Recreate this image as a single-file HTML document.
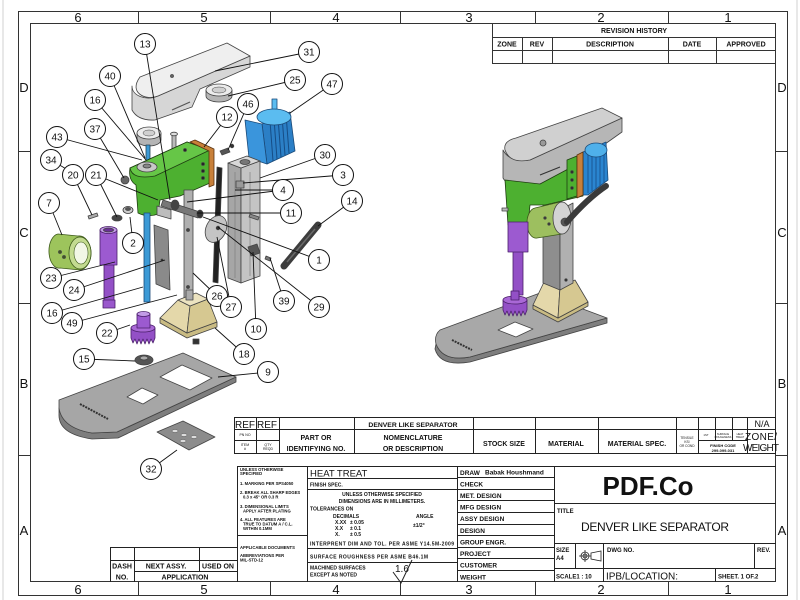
<!DOCTYPE html>
<html><head><meta charset="utf-8"><style>
html,body{margin:0;padding:0;background:#fff;width:800px;height:600px;overflow:hidden}
svg{display:block}
text{font-family:"Liberation Sans",Arial,sans-serif;fill:#111}
.z{font-size:13px}
.b{font-weight:bold}
.bl text{font-size:10px;text-anchor:middle}
</style></head><body>
<svg width="800" height="600" viewBox="0 0 800 600" xmlns="http://www.w3.org/2000/svg">
<rect width="800" height="600" fill="#fff"/>
<line x1="3" y1="0" x2="3" y2="600" stroke="#d0d0d0"/>
<line x1="797" y1="0" x2="797" y2="600" stroke="#d0d0d0"/>
<!-- frame -->
<rect x="18.5" y="11.5" width="769" height="584" fill="none" stroke="#333"/>
<rect x="30.5" y="23.5" width="745" height="558" fill="none" stroke="#333"/>
<path d="M138.5,11V23M270.5,11V23M400.5,11V23M535.5,11V23M668.5,11V23M138.5,582V595M270.5,582V595M400.5,582V595M535.5,582V595M668.5,582V595M18,151.5H30M18,303.5H30M18,455.5H30M776,151.5H788M776,303.5H788M776,455.5H788" stroke="#333" fill="none"/>
<g class="z" text-anchor="middle">
<text x="78" y="22">6</text><text x="204" y="22">5</text><text x="336" y="22">4</text><text x="469" y="22">3</text><text x="601" y="22">2</text><text x="728" y="22">1</text>
<text x="78" y="594">6</text><text x="204" y="594">5</text><text x="336" y="594">4</text><text x="469" y="594">3</text><text x="601" y="594">2</text><text x="728" y="594">1</text>
<text x="24" y="92">D</text><text x="24" y="237">C</text><text x="24" y="388">B</text><text x="24" y="535">A</text>
<text x="782" y="92">D</text><text x="782" y="237">C</text><text x="782" y="388">B</text><text x="782" y="535">A</text>
</g>

<!-- revision history -->
<g stroke="#333" fill="none">
<rect x="492.5" y="23.5" width="283" height="40"/>
<path d="M492,37.5H776M492,50.5H776M522.5,37V63M552.5,37V63M668.5,37V63M716.5,37V63"/>
</g>
<g font-size="7" class="b" text-anchor="middle">
<text x="634" y="33">REVISION HISTORY</text>
<text x="507" y="46.5">ZONE</text><text x="537" y="46.5">REV</text><text x="610" y="46.5">DESCRIPTION</text><text x="692" y="46.5">DATE</text><text x="746" y="46.5">APPROVED</text>
</g>

<!-- ============ EXPLODED VIEW ============ -->
<g stroke="#444" stroke-width="0.8" stroke-linejoin="round">
<!-- arm 31 -->
<path d="M132,86 L132,110 Q138,121 155,120 L192,107 L200,89 L250,67 L250,56 L158,96 C146,101 132,96 132,86 Z" fill="#d6d6d6"/>
<path d="M140,77 L227,43 L250,56 L158,96 C146,101 128,93 140,77 Z" fill="#efefef"/>
<circle cx="172" cy="76" r="1.5" fill="#666"/>
<path d="M172,110 L190,102" stroke="#555" stroke-width="1.2"/>
<!-- pulley 25 -->
<path d="M206,90 v6 a13,6 0 0 0 26,0 v-6 z" fill="#b5b5b5"/>
<ellipse cx="219" cy="90" rx="13" ry="6" fill="#ececec"/>
<ellipse cx="219" cy="90" rx="7" ry="3" fill="#d0d0d0" stroke-width="0.5"/>
<!-- pulley 40 -->
<path d="M137,133 v7 a12,6 0 0 0 24,0 v-7 z" fill="#b5b5b5"/>
<ellipse cx="149" cy="133" rx="12" ry="6" fill="#ececec"/>
<ellipse cx="149" cy="133" rx="6" ry="3" fill="#d0d0d0" stroke-width="0.5"/>
<rect x="146" y="145" width="4" height="16" fill="#3c9ad6" stroke="#245"/>
<!-- motor 47 -->
<rect x="272" y="99" width="5" height="17" fill="#5bbcf0" stroke="#1b4a78"/>
<path d="M262,124 L290,112 L295,151 L267,164 Z" fill="#2b7fc6" stroke="#1b4a78"/>
<path d="M270,121 L273,161 M274,119 L277,159 M278,118 L281,157 M282,116 L285,155 M286,114 L289,153" stroke="#164d85" stroke-width="1"/>
<path d="M245,120 L262,124 L267,164 L249,158 Z" fill="#3a95dc" stroke="#1b4a78"/>
<ellipse cx="274" cy="117" rx="17" ry="8" fill="#5bbcf0" stroke="#1b4a78"/>
<!-- bolt 13 -->
<rect x="172" y="134" width="4" height="30" fill="#bbb"/>
<ellipse cx="174" cy="134" rx="3.5" ry="1.8" fill="#ddd"/>
<!-- green body -->
<path d="M130,168 L187,142 L210,150 L210,183 L180,196 L160,200 L158,214 Q148,218 138,213 L136,185 Q128,180 130,168 Z" fill="#4db030" stroke="#1f3d12"/>
<path d="M130,168 L187,142 L210,150 L155,176 Q132,180 130,168 Z" fill="#66c647" stroke="#1f3d12"/>
<ellipse cx="147" cy="167" rx="10" ry="5" fill="#c8c8c8"/>
<ellipse cx="147" cy="166" rx="4" ry="2" fill="#888"/>
<path d="M190,142 L195,140 L214,149 L214,185 L209,187 L209,151 Z" fill="#c8803a" stroke="#5a3210"/>
<circle cx="203" cy="164" r="1.5" fill="#222"/><circle cx="203" cy="171" r="1.5" fill="#222"/><circle cx="203" cy="178" r="1.5" fill="#222"/>
<circle cx="185" cy="150" r="1.5" fill="#222"/>
<!-- small parts -->
<path d="M220,151 l8,-3 l2,4 l-8,3 z" fill="#555"/>
<circle cx="232" cy="146" r="1.8" fill="#333"/>
<circle cx="125" cy="180" r="4" fill="#666"/>
<path d="M88,216 l9,-3 l1,3 l-9,3 z" fill="#aaa"/>
<ellipse cx="117" cy="218" rx="5" ry="3" fill="#444"/>
<ellipse cx="128" cy="210" rx="5" ry="3.5" fill="#ccc" stroke="#333"/>
<ellipse cx="128" cy="209" rx="2.5" ry="1.5" fill="#555"/>
<!-- post 30 -->
<path d="M228,163 L241,168 L241,283 L228,278 Z" fill="#a6a6a6"/>
<path d="M241,168 L260,161 L260,276 L241,283 Z" fill="#c4c4c4"/>
<path d="M228,163 L247,156 L260,161 L241,168 Z" fill="#d8d8d8"/>
<ellipse cx="245" cy="162" rx="5" ry="2.5" fill="#777"/>
<path d="M235,172 V278 M250,172 V276" stroke="#777" stroke-width="0.6"/>
<path d="M236,181 h8 v7 h-8 z" fill="#999"/>
<path d="M250,214 l9,3 l-1,3 l-9,-3 z" fill="#888"/>
<!-- black rod -->
<path d="M217,167 L222,168 L218,283 L213,282 Z" fill="#222"/>
<!-- shaft 26 -->
<rect x="184" y="190" width="9" height="110" fill="#b0b0b0"/>
<circle cx="188" cy="230" r="1.5" fill="#444"/><circle cx="188" cy="287" r="1.5" fill="#444"/>
<!-- horizontal shaft items -->
<path d="M163,200 L200,212 L198,218 L161,206 Z" fill="#777"/>
<ellipse cx="175" cy="205" rx="4" ry="5" fill="#444"/>
<ellipse cx="200" cy="214" rx="3" ry="4" fill="#333"/>
<path d="M157,206 l14,4 v9 l-14,-4 z" fill="#bdbdbd"/>
<!-- blue shaft 16 -->
<rect x="144" y="213" width="6" height="89" fill="#3c9ad6" stroke="#1b4a78"/>
<!-- plate 24 -->
<path d="M154,225 L168,230 L170,290 L156,284 Z" fill="#8a8a8a"/>
<circle cx="162" cy="260" r="1" fill="#222"/>
<!-- disc 1 -->
<ellipse cx="216" cy="229" rx="10" ry="14" fill="#c4c4c4" transform="rotate(25 216 229)"/>
<circle cx="218" cy="228" r="1.8" fill="#333"/>
<!-- lever 14 -->
<path d="M284,266 L318,225" stroke="#3d3d3d" stroke-width="7" stroke-linecap="round"/>
<path d="M287,262 L315,229" stroke="#6a6a6a" stroke-width="1.5"/>
<!-- part 10, 39 -->
<path d="M248,247 L257,244 L260,253 L251,256 Z" fill="#555"/>
<path d="M266,256 l5,2 l-1,3 l-5,-2 z" fill="#777"/>
<!-- part 7 -->
<path d="M58,234 L78,236 A12,17 0 0 1 80,270 L60,268 A10,17 0 0 1 58,234 Z" fill="#9dc45c" stroke="#3d5a1a"/>
<ellipse cx="80" cy="253" rx="11" ry="16" fill="#c3db90" stroke="#3d5a1a"/>
<ellipse cx="81" cy="253" rx="7" ry="11" fill="#f2f7e6" stroke="#3d5a1a" stroke-width="0.6"/>
<circle cx="60" cy="252" r="1.5" fill="#3d5a1a"/><circle cx="64" cy="257" r="1.5" fill="#3d5a1a"/>
<!-- purple 23/24 -->
<rect x="104" y="264" width="10" height="38" fill="#9350c6" stroke="#4a1f6a"/>
<path d="M103,300 h12 v8 h-12 z" fill="#9a58cc" stroke="#4a1f6a"/>
<path d="M100,230 V265 H117 V230 Z" fill="#9c5ad0" stroke="#4a1f6a"/>
<ellipse cx="108.5" cy="230" rx="8.5" ry="3.5" fill="#c29ae6" stroke="#4a1f6a"/>
<ellipse cx="108.5" cy="230" rx="5" ry="2" fill="#6b2f96"/>
<!-- purple gear 22 -->
<path d="M131,328 h24 v10 l-2,5 l-2,-4 l-2,5 l-2,-5 l-2,5 l-2,-5 l-2,5 l-2,-5 l-2,5 l-2,-5 l-2,4 l-2,-5 z" fill="#9350c6" stroke="#4a1f6a"/>
<ellipse cx="143" cy="328" rx="12" ry="4" fill="#a968d6" stroke="#4a1f6a"/>
<rect x="137" y="314" width="13" height="14" fill="#9c5ad0" stroke="#4a1f6a"/>
<ellipse cx="143.5" cy="314" rx="6.5" ry="2.5" fill="#c29ae6" stroke="#4a1f6a"/>
<!-- part 15 -->
<ellipse cx="144" cy="360" rx="9" ry="5" fill="#555"/>
<ellipse cx="144" cy="358" rx="4" ry="2" fill="#aaa"/>
<!-- tan base 18 -->
<path d="M160,318 L187,333 L217,322 L217,327 L187,338 L160,323 Z" fill="#c9bb83"/>
<path d="M178,300 L190,306 L187,333 L160,318 Z" fill="#e4d8aa"/>
<path d="M190,306 L208,299 L217,322 L187,333 Z" fill="#d6c891"/>
<path d="M178,300 L196,293 L208,299 L190,306 Z" fill="#ece3c0"/>
<rect x="186" y="290" width="7" height="10" fill="#aaa"/>
<rect x="193" y="339" width="6" height="5" fill="#333"/>
<!-- plate 9 -->
<path d="M59,408 Q62,428 92,433 L117,432 L236,377 L236,382 L118,438 L92,439 Q58,434 59,414 Z" fill="#7e7e7e"/>
<path d="M59,400 L183,353 L236,377 L117,432 L92,433 Q62,428 59,408 Z" fill="#a6a6a6"/>
<path d="M160,377 L182,365 L212,378 L190,390 Z" fill="#fff"/>
<path d="M127,397 L142,388 L158,395 L143,404 Z" fill="#fff"/>
<path d="M80,404 L108,419" stroke="#333" stroke-width="2" stroke-dasharray="2,1"/>
<!-- plate 32 -->
<path d="M157,432 L183,421 L215,437 L189,450 Z" fill="#8c8c8c"/>
<ellipse cx="175" cy="431" rx="3" ry="1.5" fill="#ddd" stroke-width="0.4"/><ellipse cx="184" cy="435" rx="3" ry="1.5" fill="#ddd" stroke-width="0.4"/>
<ellipse cx="183" cy="441" rx="3" ry="1.5" fill="#ddd" stroke-width="0.4"/><ellipse cx="194" cy="437" rx="3" ry="1.5" fill="#ddd" stroke-width="0.4"/>
</g>

<!-- ============ ASSEMBLED VIEW ============ -->
<g stroke="#444" stroke-width="0.8" stroke-linejoin="round">
<!-- base plate -->
<path d="M436,344 Q443,362 470,357 L607,318 L607,323 L470,362 Q440,367 435,349 Z" fill="#7e7e7e"/>
<path d="M440,330 L540,293 L607,318 L470,357 Q443,362 436,344 Q434,335 440,330 Z" fill="#a8a8a8"/>
<path d="M498,330 L515,322 L533,329 L516,337 Z" fill="#fff"/>
<path d="M452,340 L472,350" stroke="#333" stroke-width="2" stroke-dasharray="2,1"/>
<!-- tan base -->
<path d="M533,305 L558,318 L588,302 L588,306 L558,322 L533,309 Z" fill="#c9bb83"/>
<path d="M545,280 L560,287 L558,318 L533,305 Z" fill="#e4d8aa"/>
<path d="M560,287 L575,280 L588,302 L558,318 Z" fill="#d6c891"/>
<!-- post -->
<path d="M543,203 L560,210 L560,290 L543,283 Z" fill="#8e8e8e"/>
<path d="M560,210 L573,203 L573,283 L560,290 Z" fill="#b0b0b0"/>
<circle cx="566" cy="280" r="1.2" fill="#222"/>
<!-- arm -->
<path d="M503,150 L503,178 Q510,190 530,188 L560,176 L622,132 L622,118 L530,160 Q510,163 503,150 Z" fill="#b6b6b6"/>
<path d="M505,150 Q503,141 516,138 L602,108 L622,118 L530,160 Q510,164 505,150 Z" fill="#d0d0d0"/>
<circle cx="543" cy="143" r="3" fill="#999"/>
<path d="M540,175 L560,167" stroke="#333" stroke-width="1.2"/>
<!-- motor -->
<path d="M583,152 L606,142 L608,180 L588,195 L583,195 Z" fill="#2a85d0" stroke="#1b4a78"/>
<path d="M588,152 V193 M592,150 V191 M596,148 V189 M600,147 V186 M604,145 V183" stroke="#164d85"/>
<ellipse cx="596" cy="150" rx="11" ry="7" fill="#4fb0ea" stroke="#1b4a78"/>
<!-- green -->
<path d="M505,180 L540,184 L570,168 L583,164 L583,196 L545,205 L530,205 L528,225 L508,225 L506,195 Z" fill="#4db030" stroke="#1f3d12"/>
<path d="M567,160 L577,156 L577,196 L567,199 Z" fill="#4db030" stroke="#1f3d12"/>
<circle cx="572" cy="172" r="1.3" fill="#222"/><circle cx="572" cy="180" r="1.3" fill="#222"/><circle cx="572" cy="188" r="1.3" fill="#222"/>
<path d="M577,155 L583,152 L583,195 L577,198 Z" fill="#c8803a" stroke="#5a3210"/>
<path d="M502,208 h6 v3 h-6 z" fill="#bbb"/>
<!-- cylinder -->
<path d="M535,208 L560,202 A9,16 0 0 1 562,234 L537,238 A9,15 0 0 1 535,208 Z" fill="#9dbf5f" stroke="#3d5a1a"/>
<ellipse cx="562" cy="218" rx="9" ry="16" fill="#d3d3d3"/>
<circle cx="565" cy="222" r="4" fill="#555"/>
<circle cx="545" cy="218" r="1.2" fill="#333"/><circle cx="549" cy="224" r="1.2" fill="#333"/>
<!-- lever -->
<path d="M567,222 Q588,198 606,186" fill="none" stroke="#3a3a3a" stroke-width="6" stroke-linecap="round"/>
<!-- purple -->
<rect x="513" y="250" width="10" height="45" fill="#9350c6" stroke="#4a1f6a"/>
<rect x="508" y="222" width="20" height="30" fill="#9c5ad0" stroke="#4a1f6a"/>
<path d="M503,300 h24 v10 l-2,5 l-2,-4 l-2,5 l-2,-5 l-2,5 l-2,-5 l-2,5 l-2,-5 l-2,5 l-2,-5 l-2,4 l-2,-5 z" fill="#9350c6" stroke="#4a1f6a"/>
<ellipse cx="515" cy="300" rx="12" ry="4" fill="#a968d6" stroke="#4a1f6a"/>
<rect x="511" y="291" width="8" height="9" fill="#9350c6" stroke="#4a1f6a"/>
</g>

<!-- leaders -->
<g stroke="#111" stroke-width="0.9" fill="none">
<path d="M145,44 L170,200"/>
<path d="M309,52 L215,71"/>
<path d="M110,76 L145,158"/>
<path d="M295,80 L228,96"/>
<path d="M332,84 L290,113"/>
<path d="M95,100 L146,160"/>
<path d="M248,104 L228,150"/>
<path d="M227,117 L204,147"/>
<path d="M95,129 L124,178"/>
<path d="M57,137 L142,160"/>
<path d="M51,160 L68,170"/>
<path d="M73,175 L92,215"/>
<path d="M96,175 L117,217 M96,175 L158,200"/>
<path d="M325,155 L260,178"/>
<path d="M343,175 L243,183"/>
<path d="M283,190 L235,190 M283,190 L187,202"/>
<path d="M352,201 L318,226"/>
<path d="M49,203 L62,235"/>
<path d="M291,213 L197,213"/>
<path d="M133,243 L130,217"/>
<path d="M319,260 L203,217"/>
<path d="M51,278 L115,262"/>
<path d="M74,290 L165,260"/>
<path d="M52,313 L143,287"/>
<path d="M72,323 L177,295"/>
<path d="M217,296 L193,273"/>
<path d="M231,307 L217,237"/>
<path d="M284,301 L270,258"/>
<path d="M319,307 L218,227"/>
<path d="M256,329 L253,252"/>
<path d="M107,333 L130,325"/>
<path d="M244,354 L215,328"/>
<path d="M84,359 L135,361"/>
<path d="M268,372 L218,377"/>
<path d="M151,469 L177,450"/>
</g>

<!-- balloons -->
<g class="bl">
<g fill="#fff" stroke="#111" stroke-width="1">
<circle cx="145" cy="44" r="10.5"/><circle cx="309" cy="52" r="10.5"/><circle cx="110" cy="76" r="10.5"/><circle cx="295" cy="80" r="10.5"/>
<circle cx="332" cy="84" r="10.5"/><circle cx="95" cy="100" r="10.5"/><circle cx="248" cy="104" r="10.5"/><circle cx="227" cy="117" r="10.5"/>
<circle cx="95" cy="129" r="10.5"/><circle cx="57" cy="137" r="10.5"/><circle cx="51" cy="160" r="10.5"/><circle cx="73" cy="175" r="10.5"/>
<circle cx="96" cy="175" r="10.5"/><circle cx="325" cy="155" r="10.5"/><circle cx="343" cy="175" r="10.5"/><circle cx="283" cy="190" r="10.5"/>
<circle cx="352" cy="201" r="10.5"/><circle cx="49" cy="203" r="10.5"/><circle cx="291" cy="213" r="10.5"/><circle cx="133" cy="243" r="10.5"/>
<circle cx="319" cy="260" r="10.5"/><circle cx="51" cy="278" r="10.5"/><circle cx="74" cy="290" r="10.5"/><circle cx="52" cy="313" r="10.5"/>
<circle cx="72" cy="323" r="10.5"/><circle cx="217" cy="296" r="10.5"/><circle cx="231" cy="307" r="10.5"/><circle cx="284" cy="301" r="10.5"/>
<circle cx="319" cy="307" r="10.5"/><circle cx="256" cy="329" r="10.5"/><circle cx="107" cy="333" r="10.5"/><circle cx="244" cy="354" r="10.5"/>
<circle cx="84" cy="359" r="10.5"/><circle cx="268" cy="372" r="10.5"/><circle cx="151" cy="469" r="10.5"/>
</g>
<text x="145" y="47.5">13</text><text x="309" y="55.5">31</text><text x="110" y="79.5">40</text><text x="295" y="83.5">25</text>
<text x="332" y="87.5">47</text><text x="95" y="103.5">16</text><text x="248" y="107.5">46</text><text x="227" y="120.5">12</text>
<text x="95" y="132.5">37</text><text x="57" y="140.5">43</text><text x="51" y="163.5">34</text><text x="73" y="178.5">20</text>
<text x="96" y="178.5">21</text><text x="325" y="158.5">30</text><text x="343" y="178.5">3</text><text x="283" y="193.5">4</text>
<text x="352" y="204.5">14</text><text x="49" y="206.5">7</text><text x="291" y="216.5">11</text><text x="133" y="246.5">2</text>
<text x="319" y="263.5">1</text><text x="51" y="281.5">23</text><text x="74" y="293.5">24</text><text x="52" y="316.5">16</text>
<text x="72" y="326.5">49</text><text x="217" y="299.5">26</text><text x="231" y="310.5">27</text><text x="284" y="304.5">39</text>
<text x="319" y="310.5">29</text><text x="256" y="332.5">10</text><text x="107" y="336.5">22</text><text x="244" y="357.5">18</text>
<text x="84" y="362.5">15</text><text x="268" y="375.5">9</text><text x="151" y="472.5">32</text>
</g>

<!-- ============ BOM ============ -->
<g stroke="#222" fill="none">
<rect x="234.5" y="417.5" width="541" height="36"/>
<path d="M234,429.5H776M234,440.5H279M698,440.5H747"/>
<path d="M256.5,417V453M279.5,417V453M354.5,417V453M473.5,417V453M535.5,417V453M598.5,417V453M676.5,417V453M698.5,417V453M715.5,417V440M732.5,417V440M747.5,417V453"/>
</g>
<text x="235" y="428" font-size="10">REF</text><text x="257" y="428" font-size="10">REF</text>
<g text-anchor="middle">
<text x="245" y="436" font-size="3.5">PN NO</text>
<text x="245" y="446" font-size="3.5">ITEM</text><text x="245" y="450" font-size="3.5">#</text>
<text x="268" y="446" font-size="3.5">QTY</text><text x="268" y="450" font-size="3.5">REQD</text>
<text x="316" y="440" font-size="7" class="b">PART OR</text>
<text x="316" y="451" font-size="7" class="b">IDENTIFYING NO.</text>
<text x="413" y="427" font-size="6.8" class="b">DENVER LIKE SEPARATOR</text>
<text x="413" y="440" font-size="7" class="b">NOMENCLATURE</text>
<text x="413" y="451" font-size="7" class="b">OR DESCRIPTION</text>
<text x="504" y="446" font-size="7" class="b">STOCK SIZE</text>
<text x="566" y="446" font-size="7" class="b">MATERIAL</text>
<text x="637" y="446" font-size="7" class="b">MATERIAL SPEC.</text>
<text x="687" y="439" font-size="3.2">TENSILE</text><text x="687" y="443" font-size="3.2">KSI</text><text x="687" y="447" font-size="3.2">OR COND</text>
<text x="706" y="436" font-size="2.8">1ST</text>
<text x="723" y="435" font-size="2.6">SURFACE</text><text x="723" y="438" font-size="2.6">ROUGHNESS</text>
<text x="740" y="435" font-size="2.6">HEAT</text><text x="740" y="438" font-size="2.6">TREAT</text>
<text x="723" y="447" font-size="4" class="b">FINISH CODE</text>
<text x="723" y="452" font-size="4" class="b">299-099-031</text>
<text x="762" y="427" font-size="9">N/A</text>
</g>
<text x="745" y="440" font-size="10" textLength="32">ZONE/</text>
<text x="743" y="451" font-size="10" textLength="36">WEIGHT</text>

<!-- ============ TITLE BLOCK ============ -->
<g stroke="#222" fill="none">
<path d="M237,466.5H776"/>
<path d="M237.5,466V582M307.5,466V582M457.5,466V582M554.5,466V582"/>
<path d="M237,535.5H307"/>
<path d="M307,478.5H457M307,489.5H457M307,548.5H457M307,562.5H457"/>
<path d="M110.5,547V582M134.5,547V582M199.5,547V571M110,547.5H237M110,560.5H237M134,571.5H237"/>
<path d="M457,477.5H554M457,489.5H554M457,500.5H554M457,512.5H554M457,524.5H554M457,535.5H554M457,547.5H554M457,558.5H554M457,570.5H554"/>
<path d="M554,503.5H776M554,543.5H776M554,568.5H776"/>
<path d="M575.5,543V568M603.5,543V582M754.5,543V568M715.5,568V582"/>
</g>
<!-- notes -->
<g font-size="4.2" class="b">
<text x="240" y="471">UNLESS OTHERWISE</text><text x="240" y="475">SPECIFIED</text>
<text x="240" y="485">1. MARKING PER SPS4050</text>
<text x="240" y="494">2. BREAK ALL SHARP EDGES</text><text x="243" y="498.5">0.3 x 45° OR 0.3 R</text>
<text x="240" y="508">3. DIMENSIONAL LIMITS</text><text x="243" y="512.5">APPLY AFTER PLATING</text>
<text x="240" y="521">4. ALL FEATURES ARE</text><text x="243" y="525.5">TRUE TO DATUM A / C.L.</text><text x="243" y="530">WITHIN 0.1MM</text>
<text x="240" y="549">APPLICABLE DOCUMENTS</text>
<text x="240" y="557">ABBREVIATIONS PER</text><text x="240" y="561.5">MIL-STD-12</text>
</g>
<text x="310" y="476.5" font-size="9.5">HEAT TREAT</text>
<g font-size="5" class="b">
<text x="310" y="486.5">FINISH SPEC.</text>
<text x="382" y="496" text-anchor="middle">UNLESS OTHERWISE SPECIFIED</text>
<text x="382" y="503" text-anchor="middle">DIMENSIONS ARE IN MILLIMETERS.</text>
<text x="310" y="510.5">TOLERANCES ON</text>
<text x="333" y="518">DECIMALS</text><text x="416" y="518">ANGLE</text>
<text x="335" y="524">X.XX</text><text x="350" y="524">± 0.05</text>
<text x="335" y="530">X.X</text><text x="350" y="530">± 0.1</text>
<text x="335" y="536">X.</text><text x="350" y="536">± 0.5</text>
<text x="413" y="527">±1/2°</text>
<text x="310" y="545.5" textLength="144">INTERPRENT DIM AND TOL.  PER ASME Y14.5M-2009</text>
<text x="310" y="558.5" textLength="118">SURFACE ROUGHNESS PER ASME B46.1M</text>
<text x="310" y="569.5">MACHINED SURFACES</text>
<text x="310" y="576.5">EXCEPT AS NOTED</text>
</g>
<text x="395" y="572" font-size="10">1.6</text>
<path d="M393,572 L401,583 L412,560" stroke="#222" fill="none"/>
<!-- dash table -->
<g font-size="7" text-anchor="middle" class="b">
<text x="122" y="568.5">DASH</text><text x="122" y="579.5">NO.</text>
<text x="166" y="568.5">NEXT ASSY.</text><text x="218" y="568.5">USED ON</text>
<text x="185" y="579.5">APPLICATION</text>
</g>
<!-- draw column -->
<g font-size="6.5" class="b">
<text x="460" y="475">DRAW</text><text x="485" y="474.5">Babak Houshmand</text>
<text x="460" y="486.5">CHECK</text>
<text x="460" y="498">MET. DESIGN</text>
<text x="460" y="509.5">MFG DESIGN</text>
<text x="460" y="521">ASSY DESIGN</text>
<text x="460" y="533">DESIGN</text>
<text x="460" y="544.5">GROUP ENGR.</text>
<text x="460" y="556">PROJECT</text>
<text x="460" y="567.5">CUSTOMER</text>
<text x="460" y="579.5">WEIGHT</text>
</g>
<!-- right title -->
<text x="648" y="495" font-size="26" class="b" text-anchor="middle">PDF.Co</text>
<text x="557" y="513" font-size="6" class="b">TITLE</text>
<text x="581" y="531" font-size="12" textLength="148">DENVER LIKE SEPARATOR</text>
<text x="556" y="552" font-size="6" class="b">SIZE</text><text x="556" y="560" font-size="6" class="b">A4</text>
<g stroke="#222" fill="none" stroke-width="0.8">
<circle cx="585" cy="556" r="4"/><circle cx="585" cy="556" r="2"/>
<path d="M579,556H591M585,550V562M591,553 L601,551 V561 L591,559 Z"/>
</g>
<text x="607" y="552" font-size="6" class="b">DWG NO.</text>
<text x="757" y="552" font-size="6" class="b">REV.</text>
<text x="556" y="578.5" font-size="6" class="b">SCALE1 : 10</text>
<text x="606" y="579.5" font-size="10" textLength="72">IPB/LOCATION:</text>
<text x="718" y="578.5" font-size="6" class="b">SHEET. 1 OF.2</text>
</svg>
</body></html>
